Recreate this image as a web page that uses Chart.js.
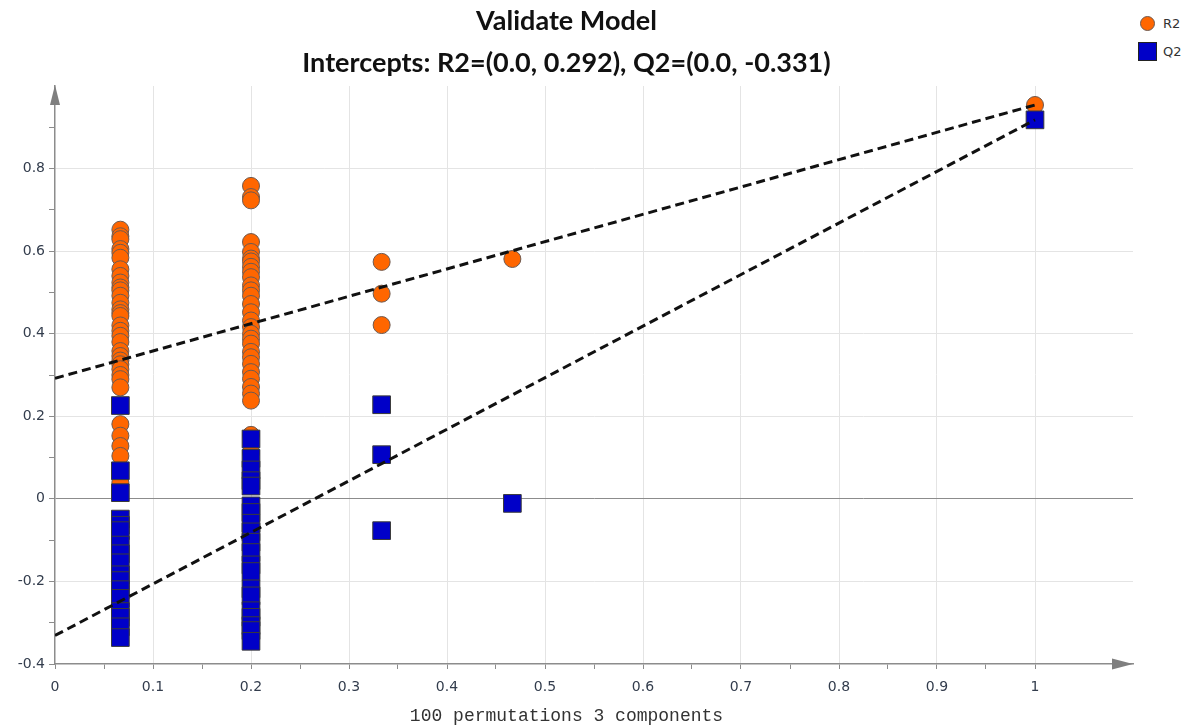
<!DOCTYPE html>
<html>
<head>
<meta charset="utf-8">
<title>Validate Model</title>
<script src="https://cdn.jsdelivr.net/npm/chart.js@4.4.1/dist/chart.umd.min.js"></script>
<style>
  body { margin: 0; background: #fff; }
  .wrap { position: relative; width: 1191px; height: 726px; }
  #validateChart { position: absolute; left: 0; top: 0; }
  .legend { position: absolute; left: 1138px; top: 9px; font: 13px "DejaVu Sans", sans-serif; color: #333; }
  .legendItem { display: flex; align-items: center; height: 28px; }
  .dot { width: 15px; height: 15px; border-radius: 50%; background: #ff6600; border: 1px solid #6e5a50; box-sizing: border-box; margin: 0 8px 0 2px; }
  .box { width: 19px; height: 19px; background: #0000c8; border: 1px solid #222; box-sizing: border-box; margin-right: 6px; }
</style>
</head>
<body>
<div class="wrap">
  <canvas id="validateChart" width="1136" height="726"></canvas>
  <div class="legend">
    <div class="legendItem"><span class="dot"></span>R2</div>
    <div class="legendItem"><span class="box"></span>Q2</div>
  </div>
</div>
<script>
// correlation of permuted y with original y, one column per value
var corrX = [0.0667, 0.2, 0.3333, 0.4667, 1];

// R2 of the permuted models, per column (last one is the real model)
var r2Col1 = [0.652, 0.636, 0.629, 0.605, 0.596, 0.584, 0.556, 0.540, 0.524, 0.512, 0.505, 0.492, 0.475, 0.459, 0.450, 0.443, 0.420, 0.407, 0.395, 0.380, 0.358, 0.346, 0.335, 0.326, 0.314, 0.300, 0.290, 0.270, 0.181, 0.153, 0.128, 0.104, 0.040];
var r2Col2 = [0.758, 0.731, 0.723, 0.622, 0.598, 0.582, 0.575, 0.562, 0.550, 0.537, 0.517, 0.505, 0.492, 0.472, 0.452, 0.432, 0.416, 0.400, 0.388, 0.376, 0.356, 0.343, 0.327, 0.307, 0.291, 0.271, 0.255, 0.238, 0.155, 0.113];
var r2Col3 = [0.574, 0.497, 0.421];
var r2Col4 = [0.581];
var r2Model = [0.954];

// Q2 of the permuted models
var q2Col1 = [0.226, 0.068, 0.015, -0.049, -0.064, -0.077, -0.112, -0.133, -0.155, -0.184, -0.198, -0.220, -0.241, -0.273, -0.287, -0.310, -0.336];
var q2Col2 = [0.145, 0.098, 0.070, 0.044, 0.031, -0.017, -0.033, -0.059, -0.080, -0.105, -0.130, -0.160, -0.176, -0.218, -0.235, -0.271, -0.287, -0.307, -0.319, -0.345];
var q2Col3 = [0.228, 0.107, -0.077];
var q2Col4 = [-0.011];
var q2Model = [0.918];

// regression line intercepts at x = 0
var r2Intercept = 0.292;
var q2Intercept = -0.331;

function toPoints(cols) {
  var pts = [];
  cols.forEach(function (col, i) {
    col.forEach(function (v) {
      pts.push({ x: corrX[i], y: v });
    });
  });
  return pts;
}

var r2Points = toPoints([r2Col1, r2Col2, r2Col3, r2Col4, r2Model]);
var q2Points = toPoints([q2Col1, q2Col2, q2Col3, q2Col4, q2Model]);
var r2Line = [{ x: 0, y: r2Intercept }, { x: 1, y: r2Model[0] }];
var q2Line = [{ x: 0, y: q2Intercept }, { x: 1, y: q2Model[0] }];

var axisGray = '#8c8c8c';
var gridGray = '#e4e4e4';
var none = 'rgba(0,0,0,0)';
var tickFont = { family: 'DejaVu Sans', size: 14 };

// arrow heads at the end of both axes
var axisArrows = {
  id: 'axisArrows',
  afterDraw: function (chart) {
    var ctx = chart.ctx;
    var a = chart.chartArea;
    ctx.save();
    ctx.fillStyle = '#7f7f7f';
    ctx.beginPath();
    ctx.moveTo(a.left, a.top - 1);
    ctx.lineTo(a.left - 5, a.top + 19);
    ctx.lineTo(a.left + 5, a.top + 19);
    ctx.closePath();
    ctx.fill();
    ctx.beginPath();
    ctx.moveTo(a.right, a.bottom);
    ctx.lineTo(a.right - 21, a.bottom - 5.5);
    ctx.lineTo(a.right - 21, a.bottom + 5.5);
    ctx.closePath();
    ctx.fill();
    ctx.restore();
  }
};

var fitLine = {
  showLine: true,
  borderColor: '#111',
  borderWidth: 3,
  borderDash: [9, 5],
  pointRadius: 0,
  pointHoverRadius: 0,
  fill: false,
  order: 0
};

new Chart(document.getElementById('validateChart'), {
  type: 'scatter',
  data: {
    datasets: [
      {
        label: 'R2',
        data: r2Points,
        pointStyle: 'circle',
        pointRadius: 8.5,
        pointHoverRadius: 8.5,
        backgroundColor: '#ff6600',
        borderColor: '#6e5a50',
        borderWidth: 1,
        order: 2
      },
      {
        label: 'Q2',
        data: q2Points,
        pointStyle: 'rect',
        pointRadius: 12.5,
        pointHoverRadius: 12.5,
        backgroundColor: '#0000c8',
        borderColor: '#3a3a3a',
        borderWidth: 1,
        order: 1
      },
      Object.assign({ label: 'R2 fit', data: r2Line }, fitLine),
      Object.assign({ label: 'Q2 fit', data: q2Line }, fitLine)
    ]
  },
  options: {
    responsive: false,
    animation: false,
    events: [],
    layout: { autoPadding: false, padding: { right: 3 } },
    scales: {
      x: {
        type: 'linear',
        min: 0,
        max: 1.1,
        afterFit: function (s) {
          s.height = 42;
          s.paddingLeft = 0;
          s.paddingRight = 0;
        },
        ticks: {
          stepSize: 0.05,
          autoSkip: false,
          maxRotation: 0,
          padding: 10,
          color: '#333d4d',
          font: tickFont,
          callback: function (v) {
            var k = Math.round(v * 20);
            if (k > 20) return null;
            return k % 2 ? '' : String(k / 20);
          }
        },
        grid: {
          color: function (c) {
            var k = Math.round(c.tick.value * 20);
            return (k % 2 === 0 && k > 0 && k <= 20) ? gridGray : none;
          },
          tickColor: axisGray,
          tickLength: 5
        },
        border: { color: axisGray, width: 1.5 }
      },
      y: {
        min: -0.4,
        max: 1.0,
        afterFit: function (s) {
          s.width = 55;
          s.paddingTop = 0;
          s.paddingBottom = 0;
        },
        ticks: {
          stepSize: 0.1,
          padding: 4,
          color: '#333d4d',
          font: tickFont,
          callback: function (v) {
            var k = Math.round(v * 10);
            if (k >= 10) return null;
            return k % 2 ? '' : String(k / 10);
          }
        },
        grid: {
          color: function (c) {
            var k = Math.round(c.tick.value * 10);
            if (k === 0) return axisGray;
            return (k % 2 === 0 && k > -4 && k < 10) ? gridGray : none;
          },
          tickColor: axisGray,
          tickLength: 6
        },
        border: { color: axisGray, width: 1.5 }
      }
    },
    plugins: {
      legend: { display: false },
      tooltip: { enabled: false },
      title: {
        display: true,
        text: ['Validate Model', 'Intercepts: R2=(0.0, 0.292), Q2=(0.0, -0.331)'],
        color: '#111',
        font: { family: 'Lato', size: 27, weight: 'bold', lineHeight: '42px' },
        padding: { top: 0, bottom: 2 }
      },
      subtitle: {
        display: true,
        position: 'bottom',
        text: '100 permutations 3 components',
        color: '#333',
        font: { family: 'Liberation Mono', size: 18, lineHeight: '20px' },
        padding: 0
      }
    }
  },
  plugins: [axisArrows]
});
</script>
</body>
</html>
